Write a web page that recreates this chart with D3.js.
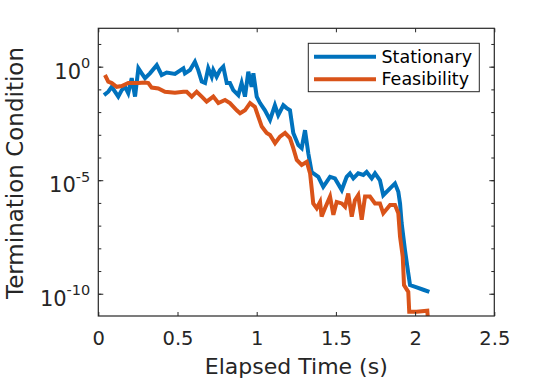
<!DOCTYPE html>
<html lang="en">
<head>
<meta charset="utf-8">
<script src="https://d3js.org/d3.v7.min.js"></script>
<style type="text/css">
  body {
    margin: 0;
    background: white;
    font-family: "DejaVu Sans", sans-serif;
  }
</style>
</head>
<body>
<script type="text/javascript">

  // Stationary condition
  var stationaryTime = [0.036, 0.063, 0.085, 0.126, 0.148, 0.169, 0.189, 0.211, 0.232, 0.253,
    0.274, 0.295, 0.326, 0.369, 0.400, 0.432, 0.484, 0.537, 0.547, 0.579,
    0.610, 0.631, 0.653, 0.674, 0.694, 0.716, 0.726, 0.747, 0.768, 0.789,
    0.811, 0.831, 0.852, 0.884, 0.905, 0.926, 0.947, 0.968, 0.979, 1.000,
    1.021, 1.052, 1.084, 1.115, 1.136, 1.168, 1.189, 1.210, 1.231, 1.263,
    1.284, 1.305, 1.326, 1.347, 1.389, 1.420, 1.463, 1.494, 1.537, 1.568,
    1.589, 1.610, 1.641, 1.673, 1.694, 1.726, 1.747, 1.778, 1.799, 1.842,
    1.873, 1.894, 1.905, 1.915, 1.936, 1.957, 1.968, 2.010, 2.052, 2.090];
  var stationaryValue = [5.6e-2, 7.9e-2, 1.3e-1, 4.8e-2, 9.3e-2, 1.3e-1, 6.8e-2, 3.1e-1, 4.8e-2, 8.5e-1,
    5.1e-1, 3.1e-1, 5.1e-1, 1.17, 4.3e-1, 5.5e-1, 4.8e-1, 8.5e-1, 5.1e-1, 7.1e-1,
    1.66, 7.1e-1, 2.2e-1, 1.9e-1, 8.5e-1, 3.6e-1, 7.1e-1, 3.6e-1, 7.1e-1, 1.0,
    1.9e-1, 1.9e-1, 9.3e-2, 5.6e-2, 1.9e-1, 4.8e-2, 6.0e-1, 1.3e-1, 5.1e-1, 4.8e-2,
    2.5e-2, 1.2e-2, 4.5e-3, 2.0e-2, 7.4e-3, 2.0e-2, 1.5e-2, 1.2e-2, 1.2e-3, 3.5e-4,
    2.6e-4, 1.6e-3, 1.5e-4, 2.3e-5, 1.4e-5, 5.1e-6, 1.4e-5, 1.2e-5, 3.7e-6, 1.4e-5,
    2.0e-5, 1.2e-5, 2.0e-5, 1.7e-5, 2.3e-5, 1.2e-5, 2.0e-5, 1.0e-5, 2.2e-6, 4.4e-6,
    7.2e-6, 3.1e-6, 9.5e-7, 1.3e-7, 8.5e-9, 7.9e-10, 2.4e-10, 1.9e-10, 1.5e-10, 1.2e-10];

  // Feasibility condition
  var feasibilityTime = [0.042, 0.063, 0.085, 0.116, 0.148, 0.189, 0.253, 0.295, 0.316, 0.337,
    0.379, 0.421, 0.484, 0.537, 0.558, 0.590, 0.621, 0.653, 0.684, 0.726,
    0.758, 0.800, 0.831, 0.874, 0.895, 0.926, 0.958, 0.989, 1.010, 1.032,
    1.063, 1.084, 1.116, 1.147, 1.179, 1.210, 1.231, 1.253, 1.284, 1.316,
    1.337, 1.347, 1.357, 1.379, 1.400, 1.410, 1.431, 1.463, 1.484, 1.505,
    1.537, 1.558, 1.578, 1.600, 1.620, 1.641, 1.663, 1.684, 1.715, 1.747,
    1.778, 1.799, 1.842, 1.873, 1.894, 1.905, 1.922, 1.930, 1.957, 1.963,
    2.010, 2.077, 2.090];
  var feasibilityValue = [4.3e-1, 2.2e-1, 1.9e-1, 1.3e-1, 1.4e-1, 1.9e-1, 1.9e-1, 2.0e-1, 1.9e-1, 1.2e-1,
    1.1e-1, 7.9e-2, 7.1e-2, 7.9e-2, 7.9e-2, 4.8e-2, 7.9e-2, 4.8e-2, 2.9e-2, 4.8e-2,
    2.5e-2, 3.4e-2, 2.5e-2, 1.2e-2, 8.9e-3, 1.2e-2, 2.5e-2, 1.7e-2, 6.3e-3, 2.3e-3,
    1.2e-3, 9.8e-4, 4.3e-4, 8.3e-4, 1.2e-3, 7.1e-4, 2.6e-4, 7.8e-5, 4.7e-5, 6.5e-5,
    2.0e-5, 4.4e-6, 9.5e-7, 5.8e-7, 1.1e-6, 2.5e-7, 5.8e-7, 1.9e-6, 3.0e-7, 1.1e-6,
    9.5e-7, 6.8e-7, 2.6e-6, 2.5e-7, 1.3e-6, 2.2e-6, 1.8e-7, 1.9e-6, 1.9e-6, 9.5e-7,
    9.5e-7, 3.5e-7, 8.1e-7, 8.1e-7, 3.5e-7, 3.2e-8, 4.3e-9, 2.4e-10, 1.2e-10, 1.6e-11,
    1.6e-11, 1.8e-11, 1e-12];

  var seriesNames = ["Stationary", "Feasibility"];
  var xTicks = [0, 0.5, 1, 1.5, 2, 2.5];
  var yMajorTicks = [1e0, 1e-5, 1e-10];
  var yMinorTicks = [1e1, 1e0, 1e-1, 1e-2, 1e-3, 1e-4, 1e-5, 1e-6, 1e-7, 1e-8, 1e-9, 1e-10];

  var width = 547;
  var height = 380;
  var margin = {left: 98.3, right: 547 - 494.3, top: 28.3, bottom: 380 - 316};
  var axisColor = "#262626";
  var colors = ["#0072BD", "#D95319"];

  var svg = d3.select("body")
    .append("svg")
    .attr("width", width)
    .attr("height", height);

  var x = d3.scaleLinear()
    .domain([0, 2.5])
    .range([margin.left, width - margin.right]);

  var y = d3.scaleLog()
    .domain([Math.pow(10, -10.98), Math.pow(10, 1.69)])
    .range([height - margin.bottom, margin.top]);

  // plot edges (note: "top" is taken by window.top, so prefix them)
  var plotBottom = y.range()[0];
  var plotTop = y.range()[1];
  var plotLeft = x.range()[0];
  var plotRight = x.range()[1];

  svg.append("clipPath")
    .attr("id", "plotArea")
    .append("rect")
    .attr("x", plotLeft)
    .attr("y", plotTop)
    .attr("width", plotRight - plotLeft)
    .attr("height", plotBottom - plotTop);

  // lines
  var line = d3.line()
    .x(function(d) { return x(d[0]); })
    .y(function(d) { return y(d[1]); });

  var series = [
    d3.zip(stationaryTime, stationaryValue),
    d3.zip(feasibilityTime, feasibilityValue)
  ];

  svg.append("g")
    .attr("clip-path", "url(#plotArea)")
    .selectAll("path")
    .data(series)
    .enter()
    .append("path")
    .attr("d", line)
    .style("fill", "none")
    .style("stroke", function(d, i) { return colors[i]; })
    .style("stroke-width", 4);

  // axes, ticks pointing inward like matlab
  var gx = svg.append("g")
    .attr("transform", "translate(0," + plotBottom + ")")
    .call(d3.axisBottom(x).tickValues(xTicks).tickSizeInner(-4).tickSizeOuter(0)
      .tickFormat(function(d) { return d; }));
  svg.append("g")
    .attr("transform", "translate(0," + plotTop + ")")
    .call(d3.axisTop(x).tickValues(xTicks).tickSizeInner(-4).tickSizeOuter(0).tickFormat(""));

  svg.append("g")
    .attr("transform", "translate(" + plotLeft + ",0)")
    .call(d3.axisLeft(y).tickValues(yMinorTicks).tickSizeInner(-3).tickSizeOuter(0).tickFormat(""));
  svg.append("g")
    .attr("transform", "translate(" + plotRight + ",0)")
    .call(d3.axisRight(y).tickValues(yMinorTicks).tickSizeInner(-3).tickSizeOuter(0).tickFormat(""));
  var gy = svg.append("g")
    .attr("transform", "translate(" + plotLeft + ",0)")
    .call(d3.axisLeft(y).tickValues(yMajorTicks).tickSizeInner(-5).tickSizeOuter(0).tickFormat(""));
  svg.append("g")
    .attr("transform", "translate(" + plotRight + ",0)")
    .call(d3.axisRight(y).tickValues(yMajorTicks).tickSizeInner(-5).tickSizeOuter(0).tickFormat(""));

  svg.selectAll(".domain").remove();
  svg.selectAll(".tick line").style("stroke", axisColor);

  gx.selectAll("text")
    .attr("y", 29)
    .attr("dy", 0)
    .style("font-family", "DejaVu Sans")
    .style("font-size", "19.5px")
    .style("fill", axisColor);

  // y tick labels as 10^n
  var yLabels = gy.selectAll(".tick")
    .append("text")
    .attr("x", -8)
    .attr("y", 11.6)
    .style("text-anchor", "end")
    .style("font-family", "DejaVu Sans")
    .style("fill", axisColor);
  yLabels.append("tspan")
    .style("font-size", "21px")
    .text("10");
  yLabels.append("tspan")
    .attr("dy", -10.5)
    .style("font-size", "14.5px")
    .text(function(d) { return Math.round(Math.log10(d)); });

  // box
  svg.append("rect")
    .attr("x", plotLeft)
    .attr("y", plotTop)
    .attr("width", plotRight - plotLeft)
    .attr("height", plotBottom - plotTop)
    .style("fill", "none")
    .style("stroke", axisColor)
    .style("stroke-width", 1.2);

  // axis titles
  svg.append("text")
    .attr("x", (plotLeft + plotRight) / 2)
    .attr("y", 374)
    .style("text-anchor", "middle")
    .style("font-size", "22px")
    .style("fill", axisColor)
    .text("Elapsed Time (s)");

  svg.append("text")
    .attr("transform", "translate(23.3,173) rotate(-90)")
    .style("text-anchor", "middle")
    .style("font-size", "23px")
    .style("fill", axisColor)
    .text("Termination Condition");

  // legend
  var legend = svg.append("g");
  legend.append("rect")
    .attr("x", 308.3)
    .attr("y", 43.3)
    .attr("width", 171)
    .attr("height", 48.4)
    .style("fill", "white")
    .style("stroke", axisColor)
    .style("stroke-width", 1);

  var items = legend.selectAll("g.item")
    .data(seriesNames)
    .enter()
    .append("g")
    .attr("class", "item")
    .attr("transform", function(d, i) { return "translate(0," + (56.7 + i * 22.6) + ")"; });

  items.append("line")
    .attr("x1", 314)
    .attr("x2", 376)
    .style("stroke", function(d, i) { return colors[i]; })
    .style("stroke-width", 4);

  items.append("text")
    .attr("x", 381.5)
    .attr("dy", "0.35em")
    .style("font-size", "17.5px")
    .style("fill", "#000")
    .text(function(d) { return d; });

</script>
</body>
</html>
